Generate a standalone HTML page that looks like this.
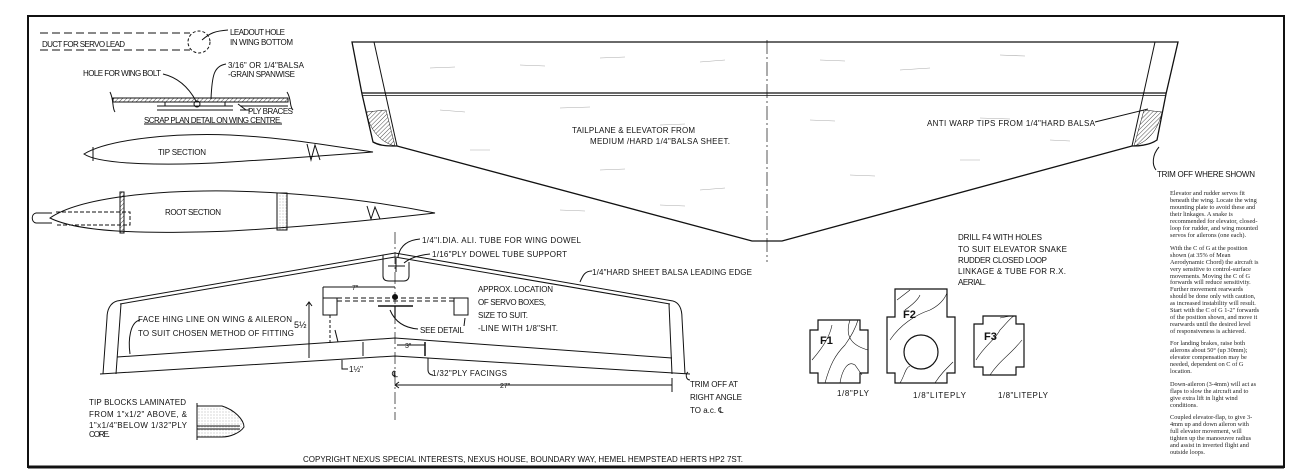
<!DOCTYPE html>
<html><head><meta charset="utf-8"><style>
html,body{margin:0;padding:0;background:#fff;}
svg{display:block;}
.t{font-family:"Liberation Sans",sans-serif;font-size:8px;fill:#111;}
.p{font-family:"Liberation Serif",serif;font-size:6.3px;fill:#222;}
.b{font-family:"Liberation Sans",sans-serif;font-size:11px;font-weight:bold;fill:#111;}
</style></head><body>
<svg width="1309" height="476" viewBox="0 0 1309 476" xmlns="http://www.w3.org/2000/svg">
<defs>
<pattern id="h" width="3" height="3" patternUnits="userSpaceOnUse" patternTransform="rotate(45)"><line x1="0" y1="0" x2="0" y2="3" stroke="#222" stroke-width="0.8"/></pattern>
<pattern id="d" width="3" height="3" patternUnits="userSpaceOnUse"><circle cx="1" cy="1" r="0.4" fill="#555"/></pattern>
</defs>
<rect width="1309" height="476" fill="#fff"/>
<rect x="28" y="16" width="1256" height="451" fill="none" stroke="#111" stroke-width="2"/>
<line x1="28" y1="467" x2="1284" y2="467" stroke="#111" stroke-width="3"/>

<g fill="none" stroke="#111" stroke-width="1">
<line x1="40" y1="33" x2="190" y2="33" stroke-dasharray="8,4"/>
<line x1="40" y1="50" x2="190" y2="50" stroke-dasharray="8,4"/>
<circle cx="199" cy="42" r="11" stroke-dasharray="3,2"/>
<path d="M202,40 C210,33 215,31 228,30"/>
<path d="M113,98 L288,98 M113,102 L288,102"/>
<rect x="113" y="98" width="175" height="4" fill="url(#h)"/>
<path d="M157,106 L233,106 M157,110 L233,110 M165,102 L165,106 M225,102 L225,106"/>
<path d="M240,106 L288,106 M240,110 L250,110"/>
<circle cx="197" cy="104" r="3"/>
<path d="M110,92 C114,100 112,108 115,112 M287,92 C292,100 289,106 293,110"/>
<path d="M163,74 C180,78 190,90 196,101"/>
<path d="M226,64 C214,66 212,75 211,99"/>
<path d="M238,104 L246,110"/>
<line x1="144" y1="124" x2="282" y2="124"/>
<path d="M84,154 C110,138 180,133 230,135 C290,138 330,146 373,152 C320,156 280,159 230,162 C170,166 100,165 84,154 Z"/>
<line x1="93" y1="147" x2="93" y2="161"/>
<path d="M307,144 L311,160 L315,145 L320,160" />
<path d="M50,218 C80,197 160,190 230,191 C320,193 390,204 435,213 C390,218 320,226 230,231 C150,234 80,233 50,218 Z"/>
<path d="M52,213 L36,213 C31,214 31,222 36,223 L52,223"/>
<path d="M56,212 L130,212 L130,225 L56,225" stroke-dasharray="4,2"/>
<rect x="120" y="192" width="4" height="41" fill="url(#h)"/>
<rect x="277" y="193" width="10" height="37" fill="url(#d)"/>
<path d="M367,206 L371,219 L375,207 L380,219"/>
<path d="M352,42 L1178,42 L1166,94 L1157,140 C1150,145 1140,146 1132,146 L782,241 L752,241 L397,146 C388,146 380,146 373,142 L362,94 Z" stroke-width="1.3"/>
<line x1="374" y1="42" x2="397" y2="146"/>
<line x1="1155" y1="42" x2="1132" y2="146"/>
<line x1="362" y1="93" x2="1166" y2="93" stroke-width="1.2"/>
<line x1="362" y1="95.5" x2="1166" y2="95.5" stroke-width="0.8"/>
<path d="M366,112 C370,130 380,142 395,146 L386,110 Z" fill="url(#h)" stroke-width="0.5"/>
<path d="M1162,112 C1158,130 1148,142 1134,146 L1144,110 Z" fill="url(#h)" stroke-width="0.5"/>
<line x1="767" y1="40" x2="767" y2="262" stroke-dasharray="14,3,2,3" stroke-width="0.7"/>
<path d="M1095,122 L1148,109"/>
<path d="M1159,147 C1152,155 1152,165 1156,170"/>
<g stroke="#aaa" stroke-width="0.6">
<path d="M430,68 L455,67 M520,65 L545,66 M600,58 L625,57 M700,62 L725,60 M820,60 L845,61 M900,70 L930,68 M1000,55 L1025,56 M440,110 L465,112 M560,108 L590,107 M660,125 L685,124 M810,120 L835,121 M980,118 L1010,119 M470,150 L490,150 M600,170 L625,169 M700,190 L725,188 M850,175 L875,176 M960,160 L980,160 M1050,140 L1070,141 M560,210 L585,211 M660,205 L685,206"/>
</g>
<path d="M818,320 L860,320 L860,330 L868,330 L868,373 L860,373 L860,383 L818,383 L818,373 L810,373 L810,330 L818,330 Z" stroke-width="1.2"/>
<path d="M895,289 L947,289 L947,317 L955,317 L955,373 L947,373 L947,383 L895,383 L895,373 L887,373 L887,317 L895,317 Z" stroke-width="1.2"/>
<circle cx="921" cy="352" r="17" stroke-width="1.2"/>
<path d="M983,316 L1016,316 L1016,324 L1024,324 L1024,367 L1016,367 L1016,375 L983,375 L983,367 L974,367 L974,324 L983,324 Z" stroke-width="1.2"/>
<g stroke-width="0.6">
<path d="M812,360 C825,345 830,335 832,325 M825,383 C830,365 835,355 845,345 C850,338 855,330 858,320 M840,383 C842,370 848,360 855,365 L862,375 M850,320 C845,335 850,345 868,350"/>
<path d="M897,300 L910,290 M890,340 C900,325 915,315 930,310 C940,305 945,298 947,293 M900,383 C905,375 905,368 910,366 M935,383 C940,375 945,370 953,362 M905,310 C912,305 918,300 920,295"/>
<path d="M976,360 C985,345 995,340 1000,330 C1005,325 1010,318 1014,316 M990,375 C1000,360 1010,355 1022,340 M1000,318 L1010,316"/>
</g>
<path d="M117,301 L395,253 L673,301"/>
<path d="M120,304 L395,257 L670,304"/>
<path d="M117,301 C110,303 107,310 107,318 L103,374"/>
<path d="M121,304 L116,374"/>
<path d="M673,301 C680,303 682,310 682,318 L685,374"/>
<path d="M669,304 L672,374"/>
<path d="M117,357 L395,338 L672,358"/>
<path d="M100,374 L395,356 L690,374"/>
<line x1="363" y1="342" x2="363" y2="356"/>
<line x1="425" y1="342" x2="425" y2="356" stroke-width="1.5"/>
<path d="M383,255 L383,276 C383,280 386,281 389,281 L404,281 C407,281 409,279 409,276 L409,262"/>
<path d="M388,266 L405,266 M396,258 L396,272"/>
<line x1="395" y1="232" x2="395" y2="420" stroke-dasharray="12,3,2,3" stroke-width="0.7"/>
<path d="M398,257 C400,245 408,240 420,239"/>
<path d="M404,263 C410,258 420,255 430,254"/>
<rect x="323" y="298" width="14" height="17"/>
<rect x="454" y="298" width="14" height="17"/>
<path d="M337,298 L454,298 M337,301 L454,301" stroke-dasharray="5,3"/>
<circle cx="395" cy="297" r="2.5" fill="#111"/>
<line x1="378" y1="306" x2="413" y2="306" stroke-width="1.5"/>
<line x1="395" y1="306" x2="395" y2="318" stroke-width="1.2"/>
<path d="M390,310 C395,322 405,328 418,329"/>
<path d="M465,318 L464,326"/>
<line x1="323" y1="287" x2="395" y2="287"/>
<line x1="323" y1="287" x2="323" y2="298"/>
<line x1="330" y1="315" x2="330" y2="345" stroke-dasharray="3,2"/>
<line x1="309" y1="302" x2="309" y2="358"/>
<path d="M306,306 L309,302 L312,306"/>
<line x1="335" y1="330" x2="338" y2="342"/>
<path d="M342,360 L342,369 L348,369"/>
<line x1="397" y1="345" x2="425" y2="345"/>
<path d="M428,358 L428,370 C428,373 430,375 433,375"/>
<line x1="395" y1="385" x2="672" y2="385"/>
<line x1="672" y1="378" x2="672" y2="392"/>
<path d="M399,382 L395,385 L399,388"/>
<path d="M140,320 C130,322 128,340 130,354"/>
<path d="M592,271 C585,271 583,275 580,282"/>
<path d="M690,380 C686,380 685,374 688,372"/>
<path d="M197,406 L222,406 C235,410 244,420 244,427 C240,433 230,437 222,437 L197,437 Z" fill="url(#d)"/>
<line x1="197" y1="426" x2="240" y2="426"/><line x1="197" y1="429" x2="240" y2="429"/>
<line x1="197" y1="403" x2="197" y2="440"/>
</g>

<g class="t">
<text x="42" y="47" textLength="83">DUCT FOR SERVO LEAD</text>
<text x="230" y="35" textLength="55">LEADOUT HOLE</text>
<text x="230" y="45" textLength="63">IN WING BOTTOM</text>
<text x="83" y="76" textLength="78">HOLE FOR WING BOLT</text>
<text x="228" y="68" textLength="76">3/16" OR 1/4"BALSA</text>
<text x="228" y="77" textLength="67">-GRAIN SPANWISE</text>
<text x="248" y="114" textLength="45">PLY BRACES</text>
<text x="144" y="123" textLength="138">SCRAP PLAN DETAIL ON WING CENTRE.</text>
<text x="158" y="155" textLength="48">TIP SECTION</text>
<text x="165" y="215" textLength="56">ROOT SECTION</text>
<text x="572" y="133" textLength="123">TAILPLANE &amp; ELEVATOR FROM</text>
<text x="590" y="144" textLength="140">MEDIUM /HARD 1/4"BALSA SHEET.</text>
<text x="927" y="126" textLength="168">ANTI WARP TIPS FROM 1/4"HARD BALSA</text>
<text x="1157" y="177" textLength="98">TRIM OFF WHERE SHOWN</text>
<text x="958" y="240" textLength="84">DRILL F4 WITH HOLES</text>
<text x="958" y="252" textLength="109">TO SUIT ELEVATOR SNAKE</text>
<text x="958" y="263" textLength="89">RUDDER CLOSED LOOP</text>
<text x="958" y="274" textLength="108">LINKAGE &amp; TUBE FOR R.X.</text>
<text x="958" y="285" textLength="28">AERIAL.</text>
<text x="837" y="396" textLength="32">1/8"PLY</text>
<text x="913" y="398" textLength="53">1/8"LITEPLY</text>
<text x="998" y="398" textLength="50">1/8"LITEPLY</text>
<text x="422" y="243" textLength="159">1/4"I.DIA.  ALI. TUBE FOR WING DOWEL</text>
<text x="432" y="257" textLength="135">1/16"PLY DOWEL TUBE SUPPORT</text>
<text x="592" y="275" textLength="160">1/4"HARD SHEET BALSA LEADING EDGE</text>
<text x="478" y="292" textLength="75">APPROX. LOCATION</text>
<text x="478" y="305" textLength="68">OF SERVO BOXES,</text>
<text x="478" y="318" textLength="50">SIZE TO SUIT.</text>
<text x="478" y="331" textLength="80">-LINE WITH 1/8"SHT.</text>
<text x="420" y="333" textLength="44">SEE DETAIL</text>
<text x="138" y="322" textLength="154">FACE HING LINE ON WING &amp; AILERON</text>
<text x="138" y="336" textLength="156">TO SUIT CHOSEN METHOD OF FITTING</text>
<text x="294" y="328" font-size="9">5½</text>
<text x="349" y="372" font-size="8">1½"</text>
<text x="352" y="290" font-size="7">7"</text>
<text x="405" y="348" font-size="7">3"</text>
<text x="392" y="377" font-size="9">℄</text>
<text x="432" y="376" textLength="75">1/32"PLY FACINGS</text>
<text x="500" y="388" font-size="7">27"</text>
<text x="690" y="387" textLength="48">TRIM OFF AT</text>
<text x="690" y="400" textLength="52">RIGHT ANGLE</text>
<text x="690" y="413">TO a.c. ℄</text>
<text x="89" y="405" textLength="97">TIP BLOCKS LAMINATED</text>
<text x="89" y="417" textLength="98">FROM 1"x1/2" ABOVE, &amp;</text>
<text x="89" y="428" textLength="98">1"x1/4"BELOW 1/32"PLY</text>
<text x="89" y="437" textLength="21">CORE.</text>
<text x="303" y="462" textLength="440">COPYRIGHT NEXUS SPECIAL INTERESTS, NEXUS HOUSE, BOUNDARY WAY, HEMEL HEMPSTEAD HERTS HP2 7ST.</text>
</g>
<text class="b" x="820" y="344">F1</text>
<text class="b" x="903" y="318">F2</text>
<text class="b" x="984" y="340">F3</text>

<g class="p">
<text x="1170" y="195">Elevator and rudder servos fit</text>
<text x="1170" y="202">beneath the wing. Locate the wing</text>
<text x="1170" y="209">mounting plate to avoid these and</text>
<text x="1170" y="216">their linkages. A snake is</text>
<text x="1170" y="223">recommended for elevator, closed-</text>
<text x="1170" y="230">loop for rudder, and wing mounted</text>
<text x="1170" y="237">servos for ailerons (one each).</text>
<text x="1170" y="250">With the C of G at the position</text>
<text x="1170" y="257">shown (at 35% of Mean</text>
<text x="1170" y="264">Aerodynamic Chord) the aircraft is</text>
<text x="1170" y="271">very sensitive to control-surface</text>
<text x="1170" y="278">movements. Moving the C of G</text>
<text x="1170" y="284">forwards will reduce sensitivity.</text>
<text x="1170" y="291">Further movement rearwards</text>
<text x="1170" y="298">should be done only with caution,</text>
<text x="1170" y="305">as increased instability will result.</text>
<text x="1170" y="312">Start with the C of G 1-2" forwards</text>
<text x="1170" y="319">of the position shown, and move it</text>
<text x="1170" y="326">rearwards until the desired level</text>
<text x="1170" y="333">of responsiveness is achieved.</text>
<text x="1170" y="345">For landing brakes, raise both</text>
<text x="1170" y="352">ailerons about 50° (up 30mm);</text>
<text x="1170" y="359">elevator compensation may be</text>
<text x="1170" y="366">needed, dependent on C of G</text>
<text x="1170" y="373">location.</text>
<text x="1170" y="386">Down-aileron (3-4mm) will act as</text>
<text x="1170" y="393">flaps to slow the aircraft and to</text>
<text x="1170" y="400">give extra lift in light wind</text>
<text x="1170" y="407">conditions.</text>
<text x="1170" y="419">Coupled elevator-flap, to give 3-</text>
<text x="1170" y="426">4mm up and down aileron with</text>
<text x="1170" y="433">full elevator movement, will</text>
<text x="1170" y="440">tighten up the manoeuvre radius</text>
<text x="1170" y="447">and assist in inverted flight and</text>
<text x="1170" y="454">outside loops.</text>
</g>
</svg>
</body></html>
